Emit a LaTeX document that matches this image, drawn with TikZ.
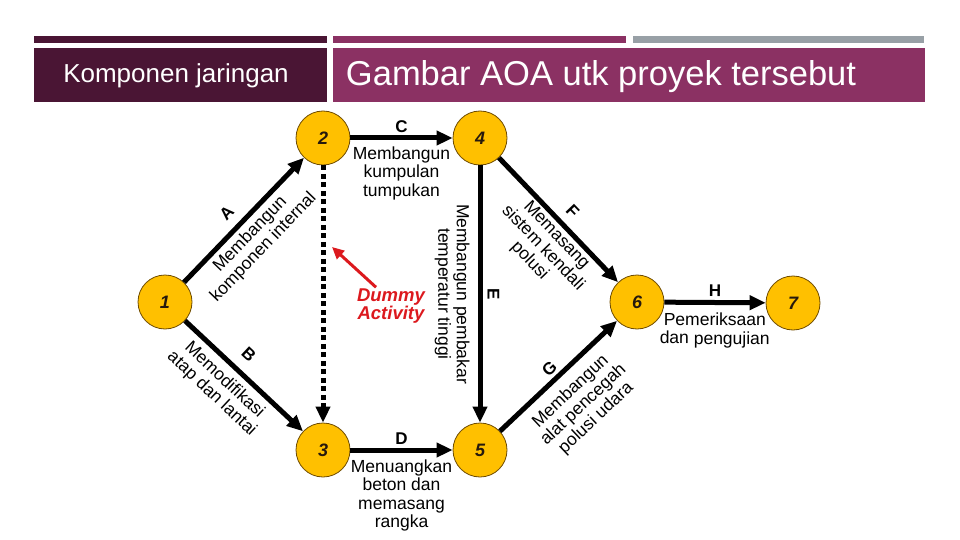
\documentclass[tikz,border=0pt]{standalone}
\usepackage{fontspec}
\setmainfont{Liberation Sans}
\usepackage{xcolor}
\usetikzlibrary{arrows.meta,positioning}
\definecolor{hdrdark}{RGB}{74,21,52}
\definecolor{hdrmag}{RGB}{139,49,99}
\definecolor{hdrgray}{RGB}{152,160,166}
\definecolor{evtfill}{HTML}{FFC000}
\definecolor{evtline}{RGB}{110,75,0}
\definecolor{dumred}{RGB}{220,25,30}

\begin{document}
\begin{tikzpicture}[
  x=1pt, y=-1pt,
  evt/.style={circle, draw=evtline, line width=0.8pt, fill=evtfill, minimum size=54pt, inner sep=0pt,
    text=black!80!brown, font=\fontsize{18}{18}\selectfont\bfseries\itshape},
  act/.style={-{Triangle[length=16pt,width=14pt]}, line width=5pt},
  dumarr/.style={act, dash pattern=on 5pt off 3.5pt},
  ltr/.style={sloped, inner sep=1pt, font=\fontsize{17}{17}\selectfont\bfseries},
  dsc/.style={sloped, inner sep=1pt, align=center, font=\fontsize{17.5}{18.5}\selectfont}
]
\useasboundingbox (0,0) rectangle (960,540);
\fill[hdrdark] (34,36) rectangle (327,43);
\fill[hdrmag] (333,36) rectangle (626,43);
\fill[hdrgray] (633,36) rectangle (924,43);
\fill[hdrdark] (34,48) rectangle (327,102);
\fill[hdrmag] (333,48) rectangle (925,102);
\node[text=white, font=\fontsize{26}{26}\selectfont] (sub) at (176,76) {Komponen jaringan};
\node[text=white, font=\fontsize{34.5}{34.5}\selectfont] (ttl) at (601,77) {Gambar AOA utk proyek tersebut};

\node[evt] (n1) at (165,302) {1};
\node[evt] (n2) at (323,138) {2};
\node[evt] (n3) at (323,450) {3};
\node[evt] (n4) at (480,138) {4};
\node[evt] (n5) at (480,450) {5};
\node[evt] (n6) at (637,302) {6};
\node[evt] (n7) at (793,303) {7};

\draw[act] (n1) -- node[ltr, pos=0.46, above=8pt] {A}
  node[dsc, pos=0.465, below=3pt] {Membangun\\komponen internal} (n2);
\draw[act] (n1) -- node[ltr, pos=0.43, above=10pt] {B}
  node[dsc, pos=0.43, below=5pt] {Memodifikasi\\atap dan lantai} (n3);
\draw[act] (n2) -- node[ltr, above=2pt] {C}
  node[dsc, below=5pt] {Membangun\\kumpulan\\tumpukan} (n4);
\draw[act] (n3) -- node[ltr, above=2pt] {D}
  node[dsc, below=6pt] {Menuangkan\\beton dan\\memasang\\rangka} (n5);
\draw[act] (n4) -- node[ltr, above=4pt] {E}
  node[dsc, below=7pt] {Membangun pembakar\\temperatur tinggi} (n5);
\draw[act] (n4) -- node[ltr, pos=0.52, above=7pt] {F}
  node[dsc, pos=0.555, below=1pt] {Memasang\\sistem kendali\\polusi} (n6);
\draw[act] (n5) -- node[ltr, pos=0.49, above=2pt] {G}
  node[dsc, pos=0.49, below=8pt] {Membangun\\alat pencegah\\polusi udara} (n6);
\draw[act] (n6) -- node[ltr, above=2pt] {H}
  node[dsc, below=7pt] {Pemeriksaan\\dan pengujian} (n7);
\draw[dumarr] (n2) -- (n3);

\node[text=dumred, align=center, inner sep=1pt, font=\fontsize{18.5}{18.5}\selectfont\bfseries\itshape] (dum) at (391,306) {Dummy\\Activity};
\coordinate (dumtip) at (332,247);
\draw[-{Triangle[length=12pt,width=11pt]}, line width=3pt, dumred] ([xshift=-15pt]dum.north) -- (dumtip);
\end{tikzpicture}
\end{document}
